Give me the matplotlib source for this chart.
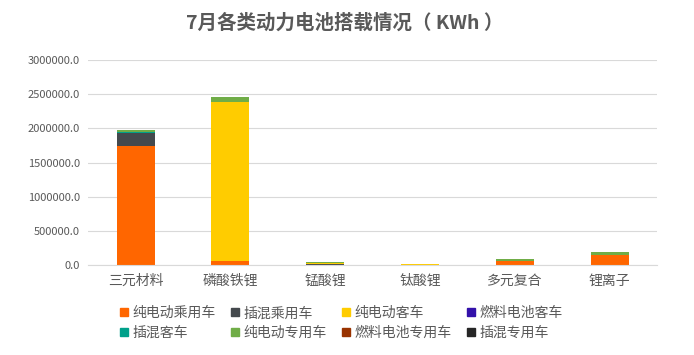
import numpy as np
import matplotlib
matplotlib.use("Agg")
import matplotlib.pyplot as plt
from matplotlib.lines import Line2D

plt.rcParams['font.family'] = ['Noto Sans CJK SC', 'DejaVu Sans']

# === Données ===
categories = ["三元材料", "磷酸铁锂", "锰酸锂", "钛酸锂", "多元复合", "锂离子"]
series_names = ["纯电动乘用车", "插混乘用车", "纯电动客车", "燃料电池客车",
                "插混客车", "纯电动专用车", "燃料电池专用车", "插混专用车"]
bev_car = [1740000, 60000, 0, 0, 60000, 145000]
phev_car = [195000, 0, 22000, 0, 0, 0]
bev_bus = [0, 2330000, 10000, 15000, 0, 0]
fcv_bus = [0, 0, 0, 0, 0, 0]
phev_bus = [5000, 0, 3000, 0, 0, 0]
bev_special = [30000, 65000, 12000, 0, 25000, 48000]
fcv_special = [0, 0, 0, 0, 0, 0]
phev_special = [0, 0, 0, 0, 0, 0]
yticks = [0, 500000, 1000000, 1500000, 2000000, 2500000, 3000000]

series = [bev_car, phev_car, bev_bus, fcv_bus, phev_bus, bev_special, fcv_special, phev_special]
colors = ["#FF6600", "#44494D", "#FFCC00", "#3311AA", "#00A08A", "#70AD47", "#993300", "#262626"]

fig = plt.figure(figsize=(6.94, 3.55), dpi=100)
ax = fig.add_axes([0.127, 0.253, 0.820, 0.578])

x = np.arange(len(categories))
bottom = np.zeros(len(categories))
for vals, c in zip(series, colors):
    vals = np.array(vals, dtype=float)
    ax.bar(x, vals, 0.4, bottom=bottom, color=c, linewidth=0)
    bottom += vals

ax.set_xlim(-0.5, len(categories) - 0.5)
ax.set_ylim(0, 3000000)
ax.set_yticks(yticks)
ax.set_yticklabels([f"{v:.1f}" for v in yticks], fontsize=8, color="#595959")
ax.set_xticks(x)
ax.set_xticklabels(categories, fontsize=10, color="#595959")
ax.tick_params(length=0, pad=6)
ax.grid(axis="y", color="#D9D9D9", linewidth=0.8)
ax.set_axisbelow(True)
for s in ["top", "right", "left"]:
    ax.spines[s].set_visible(False)
ax.spines["bottom"].set_color("#D9D9D9")

fig.text(0.497, 0.935, "7月各类动力电池搭载情况（ KWh ）", ha="center", va="center",
         fontsize=14, fontweight="bold", color="#595959")

# légende remplie par lignes (matplotlib remplit par colonnes)
order = [0, 4, 1, 5, 2, 6, 3, 7]
handles = [Line2D([0], [0], marker="s", linestyle="", markersize=6,
                  markerfacecolor=colors[i], markeredgecolor=colors[i]) for i in order]
labels = [series_names[i] for i in order]
fig.legend(handles, labels, ncol=4, loc="center", bbox_to_anchor=(0.49, 0.09),
           frameon=False, fontsize=10, handletextpad=0.1, columnspacing=0.9,
           labelspacing=0.4, handlelength=1.0, labelcolor="#595959")

plt.savefig("out.png", dpi=100)
